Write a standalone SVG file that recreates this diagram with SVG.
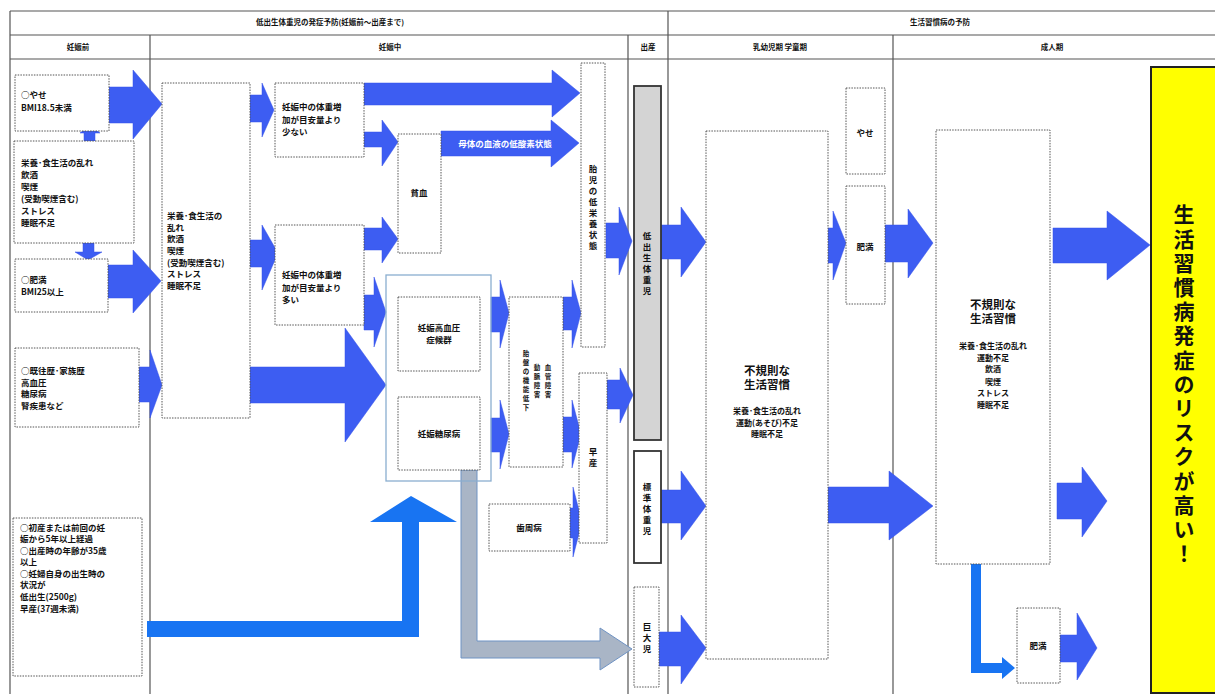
<svg xmlns="http://www.w3.org/2000/svg" width="1215" height="694" viewBox="0 0 1215 694">
<style>
text{font-family:"Noto Sans CJK JP","Noto Sans",sans-serif;font-weight:bold;fill:#111}
.h{font-size:7.5px;text-anchor:middle}
.t{font-size:8.5px}
.c{font-size:8.5px;text-anchor:middle}
.s{font-size:6.5px;text-anchor:middle}
.big{font-size:11.5px;text-anchor:middle}
.line{stroke:#555;stroke-width:1.2;fill:none}
.dot{fill:#fff;stroke:#555;stroke-width:1;stroke-dasharray:1.5 1.2}
.arr{fill:#3d5df2;stroke:#3550e8;stroke-width:0.5}
.arr2{fill:#1874f2}
</style>
<rect width="1215" height="694" fill="#fff"/>
<g id="table">
<path class="line" d="M10 11H1215M10 35H1215M10 59H1215M10 11V694M150 35V694M628 35V694M668 11V694M893 35V694"/>
<text class="h" x="330" y="25">低出生体重児の発症予防(妊娠前～出産まで)</text>
<text class="h" x="940" y="25">生活習慣病の予防</text>
<text class="h" x="78" y="50">妊娠前</text>
<text class="h" x="390" y="50">妊娠中</text>
<text class="h" x="648" y="50">出産</text>
<text class="h" x="780" y="50">乳幼児期 学童期</text>
<text class="h" x="1052" y="50">成人期</text>
</g>
<g id="connectors">
<polygon class="arr" points="108,87 133,87 133,70 162,104 133,139 133,123 108,123"/>
<polygon class="arr" points="108,265 133,265 133,250 161,281 133,313 133,298 108,298"/>
<polygon class="arr" points="139,367 150,367 150,350 162,385 150,418 150,402 139,402"/>
<polygon class="arr" points="84,141 84,133 80,133 90,125 100,133 95,133 95,141"/>
<polygon class="arr" points="83,243 94,243 94,252 102,252 88,260 75,252 83,252"/>
<polygon class="arr" points="250,95 262,95 262,83 274,110 262,137 262,122 250,122"/>
<polygon class="arr" points="250,240 262,240 262,225 278,253 262,290 262,267 250,267"/>
<polygon class="arr" points="364,83 552,83 552,70 580,93 552,117 552,105 364,105"/>
<polygon class="arr" points="364,132 382,132 382,120 398,142 382,166 382,147 364,147"/>
<polygon class="arr" points="441,131 551,131 551,120 579,143 551,167 551,156 441,156"/>
<polygon class="arr" points="364,228 382,228 382,217 398,239 382,263 382,250 364,250"/>
<polygon class="arr" points="364,295 374,295 374,277 386,312 374,347 374,330 364,330"/>
<polygon class="arr" points="250,367 345,367 345,328 386,385 345,442 345,403 250,403"/>
<polygon class="arr" points="491,297 500,297 500,280 509,313 500,348 500,332 491,332"/>
<polygon class="arr" points="491,418 500,418 500,400 509,434 500,469 500,452 491,452"/>
<polygon class="arr" points="563,297 572,297 572,280 581,313 572,348 572,330 563,330"/>
<polygon class="arr" points="563,417 572,417 572,400 581,434 572,468 572,452 563,452"/>
<polygon class="arr" points="570,508 573,508 573,487 582,522 573,557 573,538 570,538"/>
<polygon class="arr" points="606,223 619,223 619,207 632,241 619,275 619,258 606,258"/>
<polygon class="arr" points="607,380 620,380 620,368 633,395 620,423 620,409 607,409"/>
<polygon class="arr" points="661,225 681,225 681,207 706,242 681,277 681,259 661,259"/>
<polygon class="arr" points="661,490 681,490 681,471 706,506 681,540 681,523 661,523"/>
<polygon class="arr" points="659,632 681,632 681,615 706,648 681,684 681,666 659,666"/>
<polygon class="arr" points="821,228 833,228 833,211 846,243 833,280 833,263 821,263"/>
<polygon class="arr" points="885,225 908,225 908,209 933,243 908,278 908,262 885,262"/>
<polygon class="arr" points="828,487 889,487 889,471 933,506 889,540 889,523 828,523"/>
<polygon class="arr" points="1053,228 1107,228 1107,211 1150,245 1107,280 1107,263 1053,263"/>
<polygon class="arr" points="1057,483 1082,483 1082,467 1107,501 1082,537 1082,519 1057,519"/>
<polygon class="arr" points="1060,635 1077,635 1077,613 1097,648 1077,680 1077,662 1060,662"/>
<text x="505" y="147" style="font-size:8.5px;fill:#fff;text-anchor:middle">母体の血液の低酸素状態</text>
<polygon class="arr2" points="147,621 402,621 402,522 370,522 411,496 457,522 419,522 419,637 147,637"/>
<polygon class="arr2" points="971,564 981,564 981,663 1002,663 1002,657 1015,668 1002,679 1002,673 971,673"/>
<polygon fill="#a9b5c6" stroke="#6f93c4" stroke-width="1" points="461,470 477,470 477,641 600,641 600,628 632,649 600,670 600,658 461,658"/>
</g>
<g id="n-yase"><rect class="dot" x="15" y="75" width="94" height="56"/><text class="t" x="21" y="98">○やせ</text><text class="t" x="21" y="111">BMI18.5未満</text></g>
<g id="n-eiyou1"><rect class="dot" x="14" y="141" width="120" height="102"/>
<text class="t"><tspan x="21" y="166">栄養･食生活の乱れ</tspan><tspan x="21" y="178">飲酒</tspan><tspan x="21" y="190">喫煙</tspan><tspan x="21" y="202">(受動喫煙含む)</tspan><tspan x="21" y="214">ストレス</tspan><tspan x="21" y="226">睡眠不足</tspan></text></g>
<g id="n-himan1"><rect class="dot" x="15" y="259" width="93" height="53"/><text class="t" x="21" y="283">○肥満</text><text class="t" x="21" y="295">BMI25以上</text></g>
<g id="n-kioureki"><rect class="dot" x="15" y="348" width="124" height="79"/>
<text class="t"><tspan x="21" y="374">○既往歴･家族歴</tspan><tspan x="21" y="386">高血圧</tspan><tspan x="21" y="397">糖尿病</tspan><tspan x="21" y="409">腎疾患など</tspan></text></g>
<g id="n-shosan"><rect class="dot" x="13" y="518" width="129" height="158"/>
<text class="t"><tspan x="20" y="531">○初産または前回の妊</tspan><tspan x="20" y="542">娠から5年以上経過</tspan><tspan x="20" y="554">○出産時の年齢が35歳</tspan><tspan x="20" y="565">以上</tspan><tspan x="20" y="577">○妊婦自身の出生時の</tspan><tspan x="20" y="588">状況が</tspan><tspan x="20" y="600">低出生(2500g)</tspan><tspan x="20" y="612">早産(37週未満)</tspan></text></g>
<g id="n-eiyou2"><rect class="dot" x="162" y="83" width="88" height="335"/>
<text class="t"><tspan x="167" y="219">栄養･食生活の</tspan><tspan x="167" y="231">乱れ</tspan><tspan x="167" y="242">飲酒</tspan><tspan x="167" y="254">喫煙</tspan><tspan x="167" y="266">(受動喫煙含む)</tspan><tspan x="167" y="277">ストレス</tspan><tspan x="167" y="289">睡眠不足</tspan></text></g>
<g id="n-sukunai"><rect class="dot" x="275" y="83" width="89" height="74"/>
<text class="t"><tspan x="282" y="110">妊娠中の体重増</tspan><tspan x="282" y="123">加が目安量より</tspan><tspan x="282" y="135">少ない</tspan></text></g>
<g id="n-ooi"><rect class="dot" x="275" y="225" width="89" height="100"/>
<text class="t"><tspan x="282" y="278">妊娠中の体重増</tspan><tspan x="282" y="291">加が目安量より</tspan><tspan x="282" y="303">多い</tspan></text></g>
<g id="n-hinketsu"><rect class="dot" x="398" y="134" width="43" height="119"/><text class="c" x="419" y="196">貧血</text></g>
<g id="n-container"><rect x="386" y="275" width="105" height="206" fill="none" stroke="#8aaed0" stroke-width="1.3"/></g>
<g id="n-kouketsuatsu"><rect class="dot" x="398" y="297" width="82" height="74"/><text class="c" x="439" y="331">妊娠高血圧</text><text class="c" x="439" y="343">症候群</text></g>
<g id="n-tounyou"><rect class="dot" x="398" y="397" width="82" height="73"/><text class="c" x="439" y="437">妊娠糖尿病</text></g>
<g id="n-taiban"><rect class="dot" x="509" y="297" width="54" height="170"/>
<text class="s"><tspan x="548" y="370">血</tspan><tspan x="548" y="379">管</tspan><tspan x="548" y="388">障</tspan><tspan x="548" y="397">害</tspan></text>
<text class="s"><tspan x="537" y="370">動</tspan><tspan x="537" y="379">脈</tspan><tspan x="537" y="388">障</tspan><tspan x="537" y="397">害</tspan></text>
<text class="s"><tspan x="526" y="356">胎</tspan><tspan x="526" y="365">盤</tspan><tspan x="526" y="374">の</tspan><tspan x="526" y="383">機</tspan><tspan x="526" y="392">能</tspan><tspan x="526" y="401">低</tspan><tspan x="526" y="410">下</tspan></text></g>
<g id="n-shishu"><rect class="dot" x="489" y="504" width="81" height="47"/><text class="c" x="529" y="531">歯周病</text></g>
<g id="n-taiji"><rect class="dot" x="581" y="63" width="24" height="284"/>
<text class="c"><tspan x="593" y="172">胎</tspan><tspan x="593" y="183">児</tspan><tspan x="593" y="194">の</tspan><tspan x="593" y="205">低</tspan><tspan x="593" y="216">栄</tspan><tspan x="593" y="227">養</tspan><tspan x="593" y="238">状</tspan><tspan x="593" y="249">態</tspan></text></g>
<g id="n-sozan"><rect class="dot" x="579" y="373" width="28" height="170"/><text class="c"><tspan x="593" y="455">早</tspan><tspan x="593" y="466">産</tspan></text></g>
<g id="n-teishussei"><rect x="634" y="86" width="27" height="354" fill="#d4d4d4" stroke="#333" stroke-width="1.8"/>
<text class="c"><tspan x="647" y="239">低</tspan><tspan x="647" y="250">出</tspan><tspan x="647" y="261">生</tspan><tspan x="647" y="272">体</tspan><tspan x="647" y="283">重</tspan><tspan x="647" y="294">児</tspan></text></g>
<g id="n-hyoujun"><rect x="634" y="451" width="27" height="112" fill="#fff" stroke="#333" stroke-width="1.8"/>
<text class="c"><tspan x="647" y="490">標</tspan><tspan x="647" y="501">準</tspan><tspan x="647" y="512">体</tspan><tspan x="647" y="523">重</tspan><tspan x="647" y="534">児</tspan></text></g>
<g id="n-kyodai"><rect class="dot" x="634" y="587" width="25" height="100"/>
<text class="c"><tspan x="647" y="630">巨</tspan><tspan x="647" y="641">大</tspan><tspan x="647" y="652">児</tspan></text></g>
<g id="n-nyuyouji"><rect class="dot" x="706" y="131" width="122" height="528"/>
<text class="big" x="767" y="375">不規則な</text><text class="big" x="767" y="389">生活習慣</text>
<text class="c" style="font-size:8px"><tspan x="767" y="414">栄養･食生活の乱れ</tspan><tspan x="767" y="426">運動(あそび)不足</tspan><tspan x="767" y="437">睡眠不足</tspan></text></g>
<g id="n-yase2"><rect class="dot" x="846" y="88" width="39" height="86"/><text class="c" x="865" y="136">やせ</text></g>
<g id="n-himan2"><rect class="dot" x="846" y="186" width="39" height="118"/><text class="c" x="865" y="250">肥満</text></g>
<g id="n-seijin"><rect class="dot" x="936" y="130" width="114" height="434"/>
<text class="big" x="993" y="309">不規則な</text><text class="big" x="993" y="323">生活習慣</text>
<text class="c" style="font-size:8px"><tspan x="993" y="349">栄養･食生活の乱れ</tspan><tspan x="993" y="361">運動不足</tspan><tspan x="993" y="372">飲酒</tspan><tspan x="993" y="385">喫煙</tspan><tspan x="993" y="396">ストレス</tspan><tspan x="993" y="408">睡眠不足</tspan></text></g>
<g id="n-himan3"><rect class="dot" x="1017" y="608" width="43" height="75"/><text class="c" x="1038" y="649">肥満</text></g>
<g id="n-risk"><rect x="1151" y="67" width="70" height="626" fill="#ffff00" stroke="#222" stroke-width="2"/>
<text x="1184" y="204" style="writing-mode:vertical-rl;font-size:21px;letter-spacing:3.2px">生活習慣病発症のリスクが高い！</text></g>
</svg>
